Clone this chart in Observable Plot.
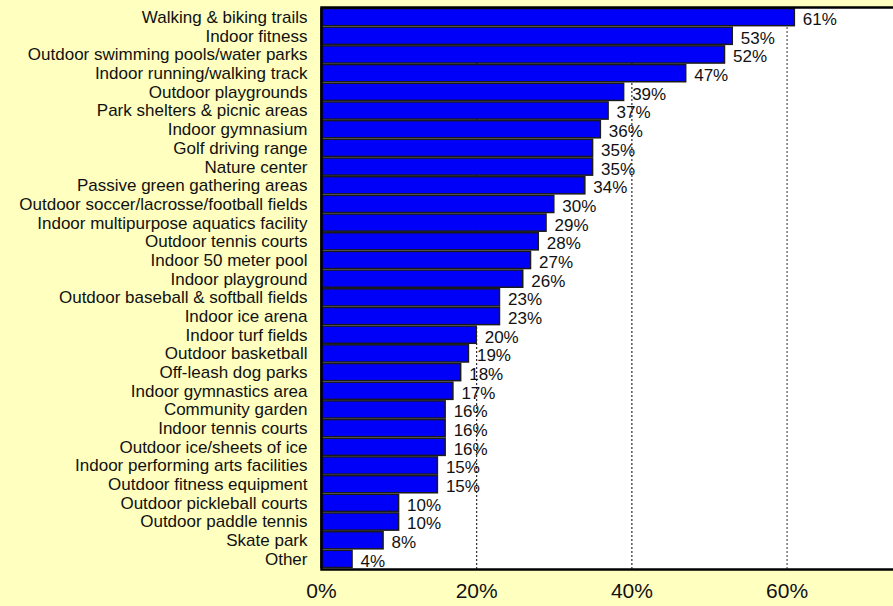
<!DOCTYPE html>
<html>
<head>
<meta charset="utf-8">
<script src="https://cdn.jsdelivr.net/npm/d3@7"></script>
<script src="https://cdn.jsdelivr.net/npm/@observablehq/plot@0.6"></script>
<style>
  html, body { margin: 0; padding: 0; background: #FFFFC0; }
  #chart svg { display: block; background: #FFFFC0; }
</style>
</head>
<body>
<div id="chart"></div>
<script>
const categories = [
  "Walking & biking trails",
  "Indoor fitness",
  "Outdoor swimming pools/water parks",
  "Indoor running/walking track",
  "Outdoor playgrounds",
  "Park shelters & picnic areas",
  "Indoor gymnasium",
  "Golf driving range",
  "Nature center",
  "Passive green gathering areas",
  "Outdoor soccer/lacrosse/football fields",
  "Indoor multipurpose aquatics facility",
  "Outdoor tennis courts",
  "Indoor 50 meter pool",
  "Indoor playground",
  "Outdoor baseball & softball fields",
  "Indoor ice arena",
  "Indoor turf fields",
  "Outdoor basketball",
  "Off-leash dog parks",
  "Indoor gymnastics area",
  "Community garden",
  "Indoor tennis courts",
  "Outdoor ice/sheets of ice",
  "Indoor performing arts facilities",
  "Outdoor fitness equipment",
  "Outdoor pickleball courts",
  "Outdoor paddle tennis",
  "Skate park",
  "Other"
];
const values = [61,53,52,47,39,37,36,35,35,34,30,29,28,27,26,23,23,20,19,18,17,16,16,16,15,15,10,10,8,4];
const xTicks = [0,20,40,60];

const data = categories.map((c, i) => ({category: c, value: values[i]}));

const chart = Plot.plot({
  width: 893,
  height: 606,
  marginLeft: 321,
  marginRight: -3,
  marginTop: 7,
  marginBottom: 37,
  style: {fontFamily: "Liberation Sans, Arial, sans-serif", background: "#FFFFC0", color: "#000"},
  x: {domain: [0, 74.1]},
  y: {domain: categories, padding: 0.08, round: false},
  marks: [
    Plot.frame({fill: "white", stroke: "none"}),
    Plot.ruleX([20, 40], {strokeDasharray: "2,2", stroke: "#000", strokeWidth: 1}),
    Plot.ruleX([60], {strokeDasharray: "2,2", stroke: "#777", strokeWidth: 1.5}),
    Plot.barX(data, {x: "value", y: "category", fill: "#0000F8", stroke: "#1a1a1a", strokeWidth: 1.5}),
    Plot.text(data, {x: "value", y: "category", text: d => d.value + "%", textAnchor: "start", dx: 8, dy: 2, fontSize: 17, fill: "#111"}),
    Plot.axisY({tickSize: 0, tickPadding: 14, fontSize: 17, label: null, fill: "#111"}),
    Plot.axisX({ticks: xTicks, tickFormat: d => d + "%", tickSize: 0, tickPadding: 14, fontSize: 21, label: null, fill: "#111"}),
    Plot.frame({stroke: "#000", strokeWidth: 2.5})
  ]
});
document.getElementById("chart").appendChild(chart);
</script>
</body>
</html>
